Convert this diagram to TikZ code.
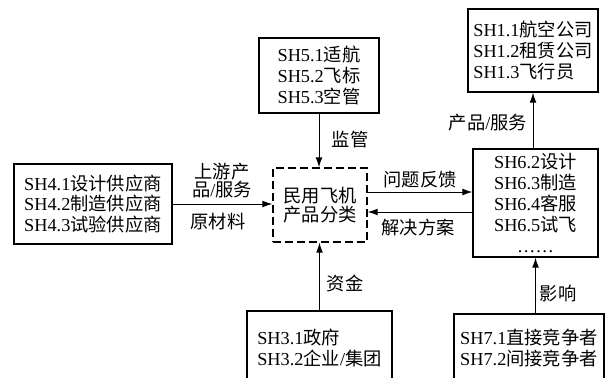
\documentclass[tikz,border=0pt]{standalone}
\usepackage{fontspec}
\setmainfont{Liberation Serif}
\newfontfamily\cjk{Noto Sans CJK SC}
\newcommand{\zh}[1]{{\cjk #1}}
\usetikzlibrary{arrows.meta}
\begin{document}
\begin{tikzpicture}[
    font=\fontsize{13pt}{14.9pt}\selectfont,
    holder/.style={draw, line width=0.9pt, inner sep=0pt},
    core/.style={draw, line width=0.9pt, dash pattern=on 5.7pt off 2.8pt, inner sep=0pt},
    flow/.style={line width=0.7pt, -{Latex[length=2.5mm,width=1.7mm]}},
    lbl/.style={inner sep=0pt, align=center}
  ]
            \useasboundingbox (0, 0) rectangle (15.25, -9.425);
            \clip (0, 0) rectangle (15.25, -9.425);
            \node[holder, minimum width=3.95cm, minimum height=2cm, align=center] (sh4) at (2.325, -5.1)
                {SH4.1\zh{设计供应商}\\SH4.2\zh{制造供应商}\\SH4.3\zh{试验供应商}};
            \node[holder, minimum width=3cm, minimum height=1.875cm, align=center] (sh5) at (7.975, -1.8875)
                {SH5.1\zh{适航}\\SH5.2\zh{飞标}\\SH5.3\zh{空管}};
            \node[holder, minimum width=3.25cm, minimum height=2.075cm, align=left] (sh1) at (13.325, -1.2625)
                {SH1.1\zh{航空公司}\\SH1.2\zh{租赁公司}\\SH1.3\zh{飞行员}};
            \node[core, minimum width=2.35cm, minimum height=1.85cm, align=center] (ctr) at (8, -5.125)
                {\zh{民用飞机}\\[-1.5pt]\zh{产品分类}};
            \node[holder, minimum width=3.125cm, minimum height=2.7cm, align=center] (sh6) at (13.3875, -5.075)
                {SH6.2\zh{设计}\\SH6.3\zh{制造}\\SH6.4\zh{客服}\\SH6.5\zh{试飞}\\……};
            \node[holder, minimum width=3.625cm, minimum height=1.85cm, align=left] (sh3) at (7.9875, -8.7)
                {SH3.1\zh{政府}\\SH3.2\zh{企业}/\zh{集团}};
            \node[holder, minimum width=3.75cm, minimum height=1.7cm, align=left] (sh7) at (13.225, -8.7)
                {SH7.1\zh{直接竞争者}\\SH7.2\zh{间接竞争者}};
            % labels
            \node[lbl] (supv) at (8.75, -3.5) {\zh{监管}};
            \node[lbl] (fund) at (8.625, -7.075) {\zh{资金}};
            \node[lbl, font=\fontsize{13pt}{12.8pt}\selectfont] (upst) at (5.55, -4.525) {\zh{上游产}\\\zh{品}/\zh{服务}};
            \node[lbl] (matl) at (5.45, -5.55) {\zh{原材料}};
            \node[lbl] (fdbk) at (10.5, -4.5) {\zh{问题反馈}};
            \node[lbl] (soln) at (10.45, -5.7) {\zh{解决方案}};
            \node[lbl] (prod) at (12.2, -3.075) {\zh{产品}/\zh{服务}};
            \node[lbl] (infl) at (13.95, -7.325) {\zh{影响}};
            % connectors
            \draw[flow] (sh5.south) -- (sh5.south |- ctr.north);
            \draw[flow] (sh3.north) -- (sh3.north |- ctr.south);
            \draw[flow] (sh4.east) -- (sh4.east -| ctr.west);
            \draw[flow] ([yshift=0.325cm]ctr.east) -- ([yshift=0.325cm]ctr.east -| sh6.west);
            \draw[flow] ([yshift=-0.175cm]ctr.east -| sh6.west) -- ([yshift=-0.175cm]ctr.east);
            \draw[flow] (sh1.south |- sh6.north) -- (sh1.south);
            \draw[flow] (sh6.south |- sh7.north) -- (sh6.south);
        \end{tikzpicture}
\end{document}
